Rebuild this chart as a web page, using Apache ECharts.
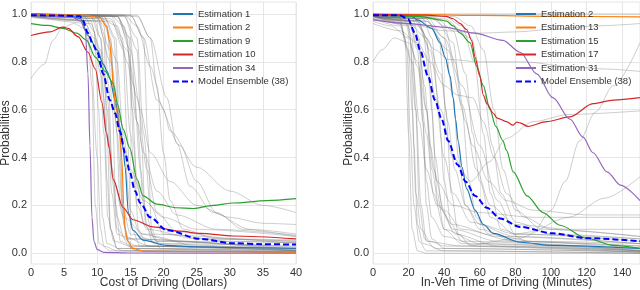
<!DOCTYPE html>
<html><head><meta charset="utf-8">
<script src="https://cdn.jsdelivr.net/npm/echarts@6/dist/echarts.min.js"></script>
<style>html,body{margin:0;padding:0;background:#fff}#c{width:640px;height:290px}</style>
</head><body><div id="c"></div>
<script>
// ---------- tick labels ----------
const costTicks = [0, 5, 10, 15, 20, 25, 30, 35, 40];
const timeTicks = [0, 20, 40, 60, 80, 100, 120, 140];
const probTicks = [0, 0.2, 0.4, 0.6, 0.8, 1.0];

// ---------- legend names ----------
const costNames = ['Estimation 1', 'Estimation 2', 'Estimation 9', 'Estimation 10', 'Estimation 34', 'Model Ensemble (38)'];
const timeNames = ['Estimation 2', 'Estimation 13', 'Estimation 15', 'Estimation 17', 'Estimation 31', 'Model Ensemble (38)'];

// ---------- left panel: Cost of Driving (Dollars) ----------
const costEst1 = [[0,0.995],[6,0.993],[7.5,0.98],[8.6,0.91],[10,0.85],[10.9,0.79],[11.5,0.76],[11.9,0.73],[12.7,0.64],[13.4,0.53],[13.9,0.44],[14.2,0.36],[14.7,0.17],[15.4,0.096],[16.9,0.055],[20.5,0.033],[25,0.027],[30,0.024],[40,0.02]];
const costEst2 = [[0,0.998],[8,0.995],[10.4,0.985],[11.4,0.947],[11.9,0.88],[12.2,0.78],[12.4,0.69],[12.9,0.6],[13.4,0.5],[13.7,0.4],[14.0,0.2],[14.2,0.1],[14.6,0.05],[15.4,0.02],[17,0.008],[40,0.003]];
const costEst9 = [[0,0.96],[2.5,0.952],[4.8,0.94],[6.9,0.92],[8.4,0.89],[9.7,0.82],[11.2,0.76],[12.4,0.71],[13.1,0.62],[13.9,0.52],[14.9,0.44],[16,0.31],[16.9,0.24],[19,0.205],[22,0.19],[24.5,0.187],[27.5,0.2],[30.5,0.21],[35.6,0.22],[40,0.228]];
const costEst10 = [[0,0.91],[2.9,0.925],[4.8,0.945],[5.6,0.94],[7.1,0.905],[8.6,0.84],[9.7,0.77],[10.7,0.63],[11.4,0.5],[11.8,0.44],[12.4,0.31],[13.9,0.19],[15.4,0.14],[18.4,0.11],[22.5,0.092],[25.5,0.083],[30.5,0.072],[40,0.06]];
const costEst34 = [[0,0.995],[6,0.99],[7.5,0.97],[8.2,0.93],[8.6,0.75],[8.9,0.45],[9.2,0.15],[9.5,0.05],[10,0.015],[11,0.004],[15,0.001],[40,0.0]];
const costEnsemble = [[0,0.995],[5,0.993],[7.4,0.99],[7.8,0.975],[8.6,0.92],[9.4,0.87],[10,0.84],[10.9,0.75],[11.9,0.64],[12.7,0.585],[13.4,0.51],[14.2,0.42],[14.9,0.34],[15.7,0.26],[16.5,0.21],[18,0.15],[20.5,0.096],[25.5,0.06],[30.5,0.042],[35,0.038],[40,0.036]];
const costGray = [
  [[0,0.73],[2,0.79],[3.3,0.89],[4.8,0.945],[6.5,0.96],[8,0.94],[9,0.85],[10,0.4],[10.5,0.1],[11,0.03],[13,0.01],[40,0.005]],
  [[0,0.99],[7,0.985],[8.5,0.95],[9.2,0.7],[9.7,0.2],[10.3,0.04],[12,0.01],[40,0.003]],
  [[0,0.995],[8,0.99],[9.5,0.93],[10.2,0.6],[10.8,0.15],[11.5,0.04],[14,0.01],[40,0.005]],
  [[0,0.99],[9,0.97],[10.3,0.85],[11,0.5],[11.6,0.15],[12.5,0.05],[16,0.02],[40,0.01]],
  [[0,1],[10,0.99],[11,0.9],[11.5,0.5],[12,0.1],[13,0.02],[40,0.005]],
  [[0,0.99],[9,0.96],[10.5,0.85],[11.5,0.65],[12.3,0.35],[13,0.15],[14,0.07],[18,0.03],[40,0.015]],
  [[0,1],[10,0.995],[11.5,0.95],[12.3,0.6],[12.8,0.2],[13.5,0.05],[16,0.01],[40,0.005]],
  [[0,0.995],[10,0.98],[12,0.85],[13,0.5],[13.8,0.2],[15,0.08],[20,0.04],[40,0.03]],
  [[0,1],[11,0.99],[12.8,0.9],[13.4,0.5],[14,0.12],[15,0.03],[40,0.01]],
  [[0,0.99],[11,0.97],[13,0.8],[14,0.45],[15,0.18],[16.5,0.08],[22,0.05],[40,0.045]],
  [[0,1],[12,0.995],[13.8,0.9],[14.5,0.5],[15.2,0.1],[16.5,0.03],[40,0.01]],
  [[0,0.995],[12,0.98],[14,0.85],[15,0.5],[16,0.2],[17.5,0.1],[25,0.06],[40,0.05]],
  [[0,1],[13,0.99],[14.8,0.9],[15.5,0.45],[16.2,0.1],[17.5,0.03],[40,0.012]],
  [[0,1],[13,0.99],[15,0.9],[16,0.55],[17,0.2],[18.5,0.07],[25,0.03],[40,0.02]],
  [[0,1],[14,0.995],[16,0.85],[16.7,0.45],[17.3,0.12],[18.5,0.04],[40,0.01]],
  [[0,1],[14,0.99],[16,0.9],[17,0.5],[18,0.2],[20,0.08],[30,0.05],[40,0.045]],
  [[0,0.99],[12,0.97],[14.5,0.85],[16,0.65],[17.5,0.35],[19,0.17],[22,0.09],[30,0.06],[40,0.055]],
  [[0,1],[15,0.995],[17,0.9],[17.6,0.5],[18.2,0.1],[19.5,0.02],[40,0.005]],
  [[0,1],[14,0.995],[16,0.95],[18,0.78],[20,0.6],[21,0.51],[25,0.36],[30,0.26],[35,0.2],[40,0.17]],
  [[0,1],[15,0.995],[17,0.9],[19,0.64],[22.5,0.45],[25,0.3],[28,0.17],[32,0.1],[40,0.07]],
  [[0,1],[16,0.995],[18,0.9],[20.5,0.65],[22,0.46],[24,0.28],[27.5,0.17],[33,0.1],[40,0.08]],
  [[0,1],[13,0.99],[15,0.85],[16.5,0.6],[18,0.42],[21,0.3],[25,0.2],[30,0.15],[35,0.125],[40,0.12]],
  [[0,0.99],[10,0.97],[12,0.8],[13.5,0.55],[15,0.35],[17,0.22],[20,0.15],[25,0.1],[40,0.07]],
  [[0,1],[11,0.99],[12.5,0.9],[13.2,0.6],[13.8,0.2],[14.5,0.06],[40,0.015]],
  [[0,1],[9,0.99],[10.5,0.9],[11.5,0.6],[12.2,0.25],[13,0.08],[16,0.03],[40,0.02]],
  [[0,0.985],[8,0.97],[9.5,0.9],[10.5,0.75],[11.5,0.5],[12.5,0.3],[14,0.15],[17,0.08],[40,0.04]],
  [[0,1],[12,0.995],[14,0.95],[15.5,0.7],[16.5,0.35],[17.5,0.12],[19,0.05],[40,0.02]],
  [[0,0.99],[10,0.985],[11,0.95],[11.7,0.7],[12.3,0.3],[13,0.1],[15,0.03],[40,0.01]],
  [[0,1],[16,0.99],[18,0.9],[19,0.7],[20,0.42],[21,0.22],[23,0.1],[28,0.06],[40,0.05]],
  [[0,0.99],[10,0.99],[13,0.95],[14.5,0.8],[16,0.55],[17,0.42],[19,0.26],[22,0.16],[28,0.1],[40,0.075]],
  [[0,1],[13,0.99],[14.5,0.9],[15.3,0.6],[16,0.3],[17,0.12],[19,0.05],[40,0.025]],
  [[0,1],[10.5,0.995],[12,0.9],[12.8,0.55],[13.5,0.2],[14.5,0.06],[40,0.01]],
  [[0,0.995],[9.5,0.98],[10.5,0.9],[11,0.65],[11.5,0.3],[12,0.1],[13,0.02],[40,0.0]]
];

// ---------- right panel: In-Veh Time of Driving (Minutes) ----------
const timeEst2 = [[0,0.995],[17,0.993],[21.7,0.99],[25,0.975],[33,0.94],[37.6,0.88],[40.5,0.82],[43.3,0.74],[45,0.65],[46.4,0.56],[47.8,0.47],[50,0.36],[52.6,0.27],[57.3,0.18],[62,0.12],[67.6,0.083],[82.6,0.046],[101,0.033],[150,0.02]];
const timeEst13 = [[0,1.0],[30,0.997],[60,0.994],[100,0.99],[150,0.988]];
const timeEst15 = [[0,0.995],[26,0.99],[37.6,0.975],[41.3,0.97],[45,0.95],[49,0.92],[54.5,0.88],[58.3,0.78],[62,0.7],[65.7,0.6],[69,0.53],[73,0.47],[75,0.43],[78.8,0.34],[86.5,0.24],[95.5,0.17],[105,0.117],[120,0.063],[135,0.033],[150,0.02]];
const timeEst17 = [[0,0.998],[30,0.995],[41,0.99],[45,0.98],[49,0.96],[52.6,0.935],[55.4,0.89],[57.3,0.82],[60,0.74],[62,0.66],[64,0.625],[67.6,0.585],[69.7,0.565],[75,0.55],[78.7,0.535],[80.8,0.548],[82.6,0.545],[87,0.53],[97.6,0.55],[110.7,0.57],[123.6,0.625],[135,0.64],[150,0.65]];
const timeEst31 = [[0,0.975],[20,0.96],[40,0.945],[57,0.92],[73,0.89],[82.6,0.84],[92,0.75],[101,0.65],[110.7,0.56],[118,0.485],[123.6,0.42],[131.5,0.34],[139,0.285],[150,0.22]];
const timeEnsemble = [[0,0.995],[15,0.995],[19.7,0.978],[23.6,0.92],[26.4,0.85],[30.9,0.74],[34.8,0.64],[38.6,0.56],[42.2,0.47],[47.5,0.37],[52,0.3],[57.3,0.24],[64,0.19],[71.4,0.145],[82.6,0.11],[101,0.083],[120,0.063],[150,0.05]];
const timeGray = [
  [[0,0.99],[15,0.985],[18,0.9],[20,0.5],[22,0.1],[25,0.01],[30,0.0],[150,0.0]],
  [[0,0.99],[15,0.97],[19,0.85],[21,0.5],[23,0.2],[26,0.05],[30,0.01],[150,0.0]],
  [[0,0.98],[15,0.96],[20,0.85],[22,0.6],[24,0.25],[27,0.1],[32,0.05],[40,0.03],[150,0.005]],
  [[0,0.995],[18,0.98],[22,0.9],[24,0.6],[26,0.2],[29,0.06],[35,0.02],[150,0.005]],
  [[0,0.99],[20,0.97],[25,0.85],[28,0.55],[30,0.3],[33,0.15],[40,0.07],[60,0.03],[150,0.01]],
  [[0,0.97],[10,0.95],[20,0.9],[25,0.78],[30,0.5],[34,0.25],[40,0.1],[60,0.04],[150,0.015]],
  [[0,0.8],[5,0.85],[12,0.9],[20,0.88],[25,0.8],[30,0.6],[33,0.35],[37,0.2],[45,0.1],[70,0.05],[150,0.03]],
  [[0,0.995],[25,0.98],[30,0.9],[33,0.6],[36,0.25],[40,0.1],[50,0.04],[150,0.01]],
  [[0,0.99],[25,0.97],[30,0.88],[35,0.65],[40,0.4],[45,0.25],[55,0.13],[80,0.07],[150,0.04]],
  [[0,0.99],[28,0.98],[33,0.9],[37,0.6],[40,0.3],[44,0.12],[50,0.05],[150,0.01]],
  [[0,0.98],[20,0.96],[30,0.9],[38,0.75],[42,0.55],[46,0.35],[52,0.2],[60,0.12],[80,0.08],[150,0.06]],
  [[0,0.99],[30,0.98],[37,0.9],[41,0.6],[44,0.25],[48,0.08],[55,0.03],[150,0.005]],
  [[0,0.995],[30,0.99],[40,0.9],[45,0.65],[48,0.4],[52,0.2],[60,0.1],[80,0.05],[150,0.03]],
  [[0,0.99],[35,0.98],[45,0.88],[50,0.6],[54,0.3],[58,0.15],[65,0.08],[90,0.05],[150,0.04]],
  [[0,0.99],[35,0.985],[45,0.93],[52,0.75],[56,0.5],[60,0.3],[66,0.15],[80,0.08],[150,0.05]],
  [[0,0.995],[40,0.99],[50,0.95],[57,0.8],[62,0.5],[66,0.25],[72,0.1],[90,0.04],[150,0.01]],
  [[0,0.99],[40,0.98],[55,0.9],[62,0.7],[67,0.45],[72,0.25],[80,0.13],[100,0.08],[150,0.06]],
  [[0,0.995],[45,0.99],[55,0.95],[62,0.85],[68,0.6],[73,0.35],[80,0.18],[95,0.1],[150,0.07]],
  [[0,0.99],[25,0.97],[32,0.85],[38,0.6],[45,0.4],[55,0.3],[65,0.38],[75,0.48],[90,0.55],[110,0.58],[150,0.595]],
  [[0,0.99],[30,0.97],[40,0.9],[50,0.7],[60,0.45],[70,0.22],[80,0.08],[90,0.09],[100,0.18],[108,0.3],[116,0.47],[125,0.59],[135,0.7],[150,0.88]],
  [[0,0.99],[25,0.95],[35,0.85],[42,0.81],[60,0.8],[85,0.8],[110,0.78],[130,0.77],[150,0.76]],
  [[0,0.99],[20,0.96],[40,0.93],[60,0.92],[80,0.925],[100,0.935],[125,0.95],[150,0.96]],
  [[0,1.0],[75,1.0],[150,1.0]],
  [[0,0.99],[20,0.95],[24,0.6],[27,0.2],[30,0.05],[50,0.03],[80,0.06],[110,0.15],[130,0.23],[150,0.32]],
  [[0,0.99],[20,0.97],[25,0.9],[29,0.7],[32,0.45],[36,0.3],[45,0.2],[60,0.17],[90,0.15],[150,0.15]],
  [[0,0.98],[15,0.95],[22,0.8],[26,0.55],[30,0.35],[36,0.2],[45,0.12],[70,0.07],[150,0.04]],
  [[0,0.985],[18,0.97],[21,0.9],[23,0.45],[25,0.12],[28,0.04],[40,0.01],[150,0.0]],
  [[0,0.99],[22,0.98],[26,0.9],[28,0.55],[30,0.2],[33,0.06],[40,0.02],[150,0.005]],
  [[0,0.99],[30,0.97],[42,0.85],[50,0.62],[56,0.45],[65,0.3],[75,0.22],[90,0.18],[120,0.16],[150,0.16]],
  [[0,0.96],[15,0.93],[25,0.88],[32,0.8],[40,0.7],[48,0.66],[56,0.65],[62,0.55],[68,0.4],[75,0.25],[85,0.15],[100,0.1],[150,0.07]],
  [[0,0.99],[20,0.97],[26,0.85],[30,0.6],[34,0.35],[40,0.18],[50,0.1],[80,0.05],[150,0.02]],
  [[0,0.995],[22,0.99],[28,0.93],[32,0.7],[35,0.4],[39,0.18],[46,0.08],[70,0.03],[150,0.01]],
  [[0,0.99],[32,0.985],[40,0.95],[46,0.8],[52,0.55],[58,0.35],[66,0.2],[80,0.12],[110,0.1],[150,0.1]]
];

const FONT = '"Liberation Sans", Arial, sans-serif';
const GRID_COLOR = '#e6e6e6';
const TXT = '#333333';
const colors = ['#1f77b4', '#ff7f0e', '#2ca02c', '#d62728', '#9467bd', '#0000ff'];
const PRE = 'R:'; // internal prefix so that right-panel series keep their own legend colours

function grayLine(data, gi, k) {
  return { type: 'line', name: 'g' + gi + '_' + k, xAxisIndex: gi, yAxisIndex: gi, data: data,
    symbol: 'none', smooth: 0.3, smoothMonotone: 'x', silent: true, z: 1,
    lineStyle: { color: 'rgba(120,120,120,0.36)', width: 1 } };
}
function colorLine(name, data, gi, idx) {
  const ens = idx === 5;
  return { type: 'line', name: name, xAxisIndex: gi, yAxisIndex: gi, data: data,
    symbol: 'none', smooth: 0.3, smoothMonotone: 'x', z: ens ? 4 : 3,
    itemStyle: { color: colors[idx] },
    lineStyle: { color: colors[idx], width: ens ? 2 : 1.2, type: ens ? [6, 3] : 'solid' } };
}
function xAx(gi, ticks, max, title) {
  return { type: 'value', gridIndex: gi, min: 0, max: max,
    name: title, nameLocation: 'middle', nameGap: 13, nameMoveOverlap: false,
    nameTextStyle: { fontSize: 12, color: TXT, fontFamily: FONT },
    axisLine: { show: false },
    axisTick: { show: false, customValues: ticks },
    axisLabel: { customValues: ticks, fontSize: 11, color: TXT, margin: 3, fontFamily: FONT },
    splitLine: { show: true, lineStyle: { color: GRID_COLOR, width: 1 } } };
}
function yAx(gi, gap) {
  return { type: 'value', gridIndex: gi, min: -0.045, max: 1.05,
    name: 'Probabilities', nameLocation: 'middle', nameGap: gap, nameMoveOverlap: false,
    nameTextStyle: { fontSize: 12, color: TXT, fontFamily: FONT },
    axisLine: { show: false },
    axisTick: { show: false, customValues: probTicks },
    axisLabel: { customValues: probTicks, formatter: v => Number(v).toFixed(1), fontSize: 11, color: TXT, margin: 4, fontFamily: FONT },
    splitLine: { show: true, lineStyle: { color: GRID_COLOR, width: 1 } } };
}

const costColored = [costEst1, costEst2, costEst9, costEst10, costEst34, costEnsemble];
const timeColored = [timeEst2, timeEst13, timeEst15, timeEst17, timeEst31, timeEnsemble];

const series = [];
costGray.forEach((d, k) => series.push(grayLine(d, 0, k)));
timeGray.forEach((d, k) => series.push(grayLine(d, 1, k)));
costNames.forEach((n, i) => series.push(colorLine(n, costColored[i], 0, i)));
timeNames.forEach((n, i) => series.push(colorLine(PRE + n, timeColored[i], 1, i)));

const legendBase = { orient: 'vertical', top: 4, itemWidth: 20, itemHeight: 10, itemGap: 3.5,
  backgroundColor: 'transparent', selectedMode: false,
  itemStyle: { opacity: 0 },
  textStyle: { fontSize: 9.5, color: TXT, fontFamily: FONT, lineHeight: 10 } };

const chart = echarts.init(document.getElementById('c'), null, { renderer: 'canvas' });
chart.setOption({
  animation: false,
  backgroundColor: '#ffffff',
  textStyle: { fontFamily: FONT },
  grid: [
    { left: 31, top: 2, width: 265, height: 262, outerBoundsMode: 'none', containLabel: false, show: true, borderColor: GRID_COLOR, borderWidth: 1, backgroundColor: 'transparent' },
    { left: 373, top: 2, width: 267, height: 262, outerBoundsMode: 'none', containLabel: false, show: true, borderColor: GRID_COLOR, borderWidth: 1, backgroundColor: 'transparent' }
  ],
  xAxis: [ xAx(0, costTicks, 40, 'Cost of Driving (Dollars)'), xAx(1, timeTicks, 150, 'In-Veh Time of Driving (Minutes)') ],
  yAxis: [ yAx(0, 19), yAx(1, 18) ],
  legend: [
    Object.assign({}, legendBase, { left: 167, data: costNames }),
    Object.assign({}, legendBase, { left: 510, data: timeNames.map(n => PRE + n), formatter: n => n.slice(PRE.length) })
  ],
  series: series
});
</script>
</body></html>
